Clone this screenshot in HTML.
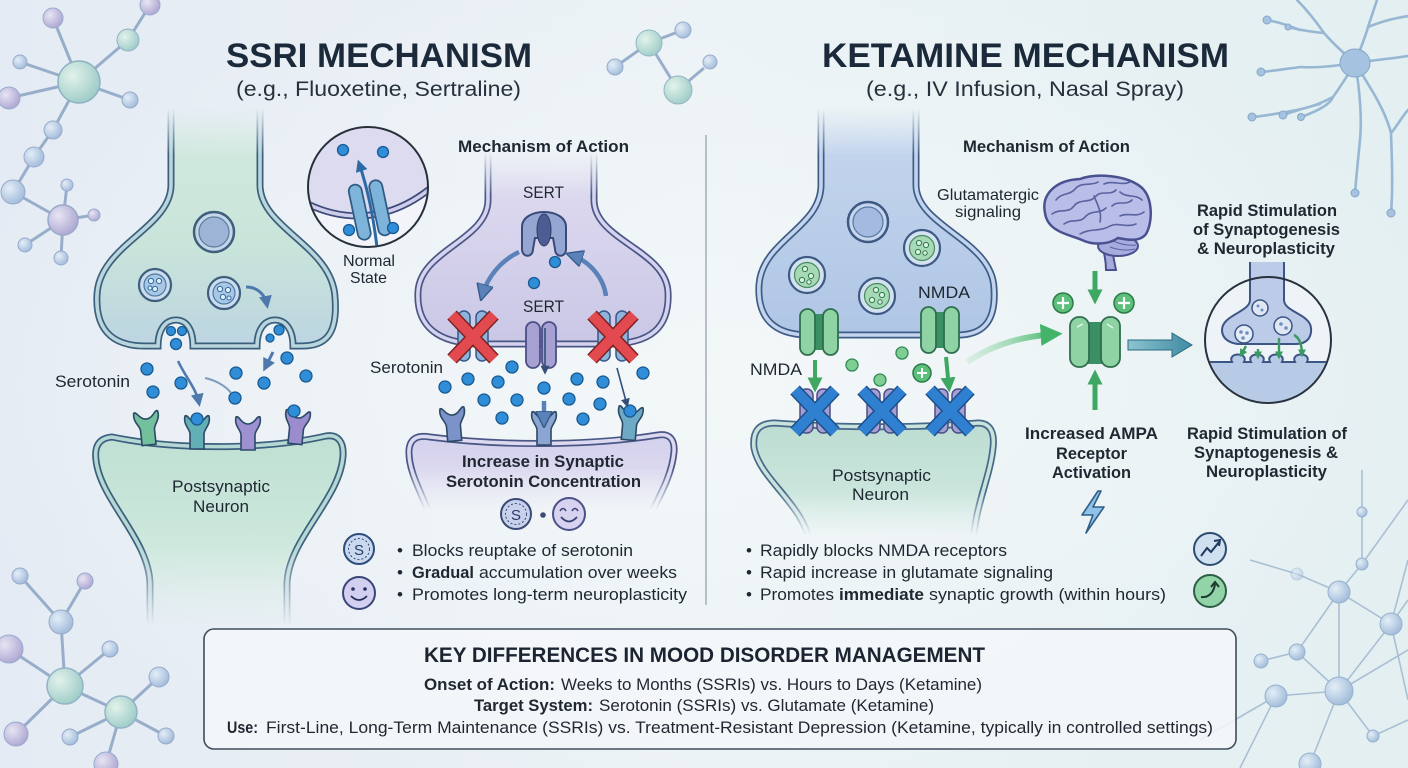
<!DOCTYPE html>
<html><head><meta charset="utf-8">
<style>
html,body{margin:0;padding:0;width:1408px;height:768px;overflow:hidden;background:#e9f0f5;}
svg{display:block}
text{font-family:"Liberation Sans",Arial,sans-serif;fill:#1f2731}
.b{font-weight:bold}
.s{fill:#2f8ed7;stroke:#1a5a92;stroke-width:1.3}
.g{fill:#7fcf95;stroke:#2f8a52;stroke-width:1.3}
.ln{stroke:#8aa4c4;stroke-width:3;fill:none}
.ln2{stroke:#9fb7cf;stroke-width:1.6;fill:none}
.rec{stroke:#2c4a66;stroke-width:1.6}
</style></head><body>
<svg width="1408" height="768" viewBox="0 0 1408 768" xmlns="http://www.w3.org/2000/svg">
<defs>
 <linearGradient id="bg" x1="0" y1="0" x2="1" y2="0">
  <stop offset="0" stop-color="#e5ebf4"/>
  <stop offset="0.5" stop-color="#ebf2f5"/>
  <stop offset="1" stop-color="#e3eff1"/>
 </linearGradient>
 <radialGradient id="bgc" cx="0.5" cy="0.5" r="0.55">
  <stop offset="0" stop-color="#f4f8f9" stop-opacity="0.9"/>
  <stop offset="1" stop-color="#f4f8f9" stop-opacity="0"/>
 </radialGradient>
 <radialGradient id="nB" cx="0.35" cy="0.35" r="0.7"><stop offset="0" stop-color="#e4eef8"/><stop offset="1" stop-color="#95b3d6"/></radialGradient>
 <radialGradient id="nG" cx="0.35" cy="0.35" r="0.7"><stop offset="0" stop-color="#e2f4ea"/><stop offset="1" stop-color="#92c6c0"/></radialGradient>
 <radialGradient id="nP" cx="0.35" cy="0.35" r="0.7"><stop offset="0" stop-color="#e8e4f4"/><stop offset="1" stop-color="#a49bcc"/></radialGradient>

 <linearGradient id="fGreenPre" x1="0" y1="0" x2="0" y2="1"><stop offset="0" stop-color="#d3ebe0"/><stop offset="0.6" stop-color="#c9e4da"/><stop offset="1" stop-color="#bcd5e2"/></linearGradient>
 <linearGradient id="fGreenPost" x1="0" y1="0" x2="0" y2="1"><stop offset="0" stop-color="#bfe0d3"/><stop offset="1" stop-color="#d8eee4"/></linearGradient>
 <linearGradient id="fPurp" x1="0" y1="0" x2="0" y2="1"><stop offset="0" stop-color="#e2def2"/><stop offset="1" stop-color="#cac7e6"/></linearGradient>
 <linearGradient id="fPurpPost" x1="0" y1="0" x2="0" y2="1"><stop offset="0" stop-color="#d3d0ec"/><stop offset="1" stop-color="#e6e4f4"/></linearGradient>
 <linearGradient id="fBlue" x1="0" y1="0" x2="0" y2="1"><stop offset="0" stop-color="#c8d8ee"/><stop offset="1" stop-color="#afc6e5"/></linearGradient>
 <linearGradient id="fKPost" x1="0" y1="0" x2="0" y2="1"><stop offset="0" stop-color="#bcdcd2"/><stop offset="1" stop-color="#d6ede4"/></linearGradient>
 <linearGradient id="fTeal" x1="0" y1="0" x2="1" y2="0"><stop offset="0" stop-color="#8cc4cf"/><stop offset="1" stop-color="#3f8aa3"/></linearGradient>
 <linearGradient id="fArrowG" x1="0" y1="0" x2="1" y2="0"><stop offset="0" stop-color="#a8e0b8" stop-opacity="0.3"/><stop offset="1" stop-color="#43b46a"/></linearGradient>

 <linearGradient id="gPreL" gradientUnits="userSpaceOnUse" x1="0" y1="108" x2="0" y2="155"><stop offset="0" stop-color="#000"/><stop offset="1" stop-color="#fff"/></linearGradient>
 <linearGradient id="gPreP" gradientUnits="userSpaceOnUse" x1="0" y1="152" x2="0" y2="195"><stop offset="0" stop-color="#000"/><stop offset="1" stop-color="#fff"/></linearGradient>
 <linearGradient id="gPreK" gradientUnits="userSpaceOnUse" x1="0" y1="108" x2="0" y2="155"><stop offset="0" stop-color="#000"/><stop offset="1" stop-color="#fff"/></linearGradient>
 <linearGradient id="gPostL" gradientUnits="userSpaceOnUse" x1="0" y1="545" x2="0" y2="625"><stop offset="0" stop-color="#fff"/><stop offset="1" stop-color="#000"/></linearGradient>
 <linearGradient id="gPostP" gradientUnits="userSpaceOnUse" x1="0" y1="468" x2="0" y2="510"><stop offset="0" stop-color="#fff"/><stop offset="1" stop-color="#000"/></linearGradient>
 <linearGradient id="gPostK" gradientUnits="userSpaceOnUse" x1="0" y1="492" x2="0" y2="535"><stop offset="0" stop-color="#fff"/><stop offset="1" stop-color="#000"/></linearGradient>
 <mask id="mPreL" maskUnits="userSpaceOnUse" x="0" y="0" width="1408" height="768"><rect width="1408" height="768" fill="url(#gPreL)"/></mask>
 <mask id="mPreP" maskUnits="userSpaceOnUse" x="0" y="0" width="1408" height="768"><rect width="1408" height="768" fill="url(#gPreP)"/></mask>
 <mask id="mPreK" maskUnits="userSpaceOnUse" x="0" y="0" width="1408" height="768"><rect width="1408" height="768" fill="url(#gPreK)"/></mask>
 <mask id="mPostL" maskUnits="userSpaceOnUse" x="0" y="0" width="1408" height="768"><rect width="1408" height="768" fill="url(#gPostL)"/></mask>
 <mask id="mPostP" maskUnits="userSpaceOnUse" x="0" y="0" width="1408" height="768"><rect width="1408" height="768" fill="url(#gPostP)"/></mask>
 <mask id="mPostK" maskUnits="userSpaceOnUse" x="0" y="0" width="1408" height="768"><rect width="1408" height="768" fill="url(#gPostK)"/></mask>
 <clipPath id="cNormal"><circle cx="368" cy="187" r="59"/></clipPath>
 <clipPath id="cSyn"><circle cx="1268" cy="340" r="62"/></clipPath>

 <marker id="mB" viewBox="0 0 10 10" refX="7" refY="5" markerWidth="13" markerHeight="13" markerUnits="userSpaceOnUse" orient="auto"><path d="M0,0 L10,5 L0,10 Z" fill="#4f79ad"/></marker>
 <marker id="mBL" viewBox="0 0 10 10" refX="7" refY="5" markerWidth="17" markerHeight="17" markerUnits="userSpaceOnUse" orient="auto"><path d="M0,0 L10,5 L0,10 Z" fill="#5a82b8" stroke="#34598a" stroke-width="0.8"/></marker>
 <marker id="mD" viewBox="0 0 10 10" refX="7" refY="5" markerWidth="9" markerHeight="9" markerUnits="userSpaceOnUse" orient="auto"><path d="M0,0 L10,5 L0,10 Z" fill="#34507a"/></marker>
 <marker id="mN" viewBox="0 0 10 10" refX="7" refY="5" markerWidth="12" markerHeight="12" markerUnits="userSpaceOnUse" orient="auto"><path d="M0,0 L10,5 L0,10 Z" fill="#2c6aa5"/></marker>
 <marker id="mG" viewBox="0 0 10 10" refX="7" refY="5" markerWidth="15" markerHeight="15" markerUnits="userSpaceOnUse" orient="auto"><path d="M0,0 L10,5 L0,10 Z" fill="#3ea862"/></marker>
 <marker id="mGL" viewBox="0 0 10 10" refX="7" refY="5" markerWidth="22" markerHeight="22" markerUnits="userSpaceOnUse" orient="auto"><path d="M0,0 L10,5 L0,10 Z" fill="#43b46a"/></marker>
 <marker id="mGs" viewBox="0 0 10 10" refX="7" refY="5" markerWidth="8" markerHeight="8" markerUnits="userSpaceOnUse" orient="auto"><path d="M0,0 L10,5 L0,10 Z" fill="#3a9a60"/></marker>
</defs>

<!-- background -->
<rect width="1408" height="768" fill="url(#bg)"/>
<rect width="1408" height="768" fill="url(#bgc)"/>

<!-- top-left molecule -->
<g opacity="0.85">
 <path class="ln" d="M53,18 L79,82 M128,40 L79,82 M128,40 L150,5 M20,62 L79,82 M130,100 L79,82 M9,98 L79,82 M79,82 L53,130 L34,157 L13,192 L63,220 M63,220 L67,185 M63,220 L94,215 M63,220 L25,245 M63,220 L61,258"/>
 <circle cx="53" cy="18" r="10" fill="url(#nP)" stroke="#8a9fc4"/>
 <circle cx="128" cy="40" r="11" fill="url(#nG)" stroke="#85aac0"/>
 <circle cx="150" cy="5" r="10" fill="url(#nP)" stroke="#8a9fc4"/>
 <circle cx="20" cy="62" r="7" fill="url(#nB)" stroke="#8a9fc4"/>
 <circle cx="9" cy="98" r="11" fill="url(#nP)" stroke="#8a9fc4"/>
 <circle cx="130" cy="100" r="8" fill="url(#nB)" stroke="#8a9fc4"/>
 <circle cx="79" cy="82" r="21" fill="url(#nG)" stroke="#7fa8bc" stroke-width="1.5"/>
 <circle cx="53" cy="130" r="9" fill="url(#nB)" stroke="#8a9fc4"/>
 <circle cx="34" cy="157" r="10" fill="url(#nB)" stroke="#8a9fc4"/>
 <circle cx="13" cy="192" r="12" fill="url(#nB)" stroke="#8a9fc4"/>
 <circle cx="67" cy="185" r="6" fill="url(#nB)" stroke="#8a9fc4"/>
 <circle cx="94" cy="215" r="6" fill="url(#nP)" stroke="#8a9fc4"/>
 <circle cx="25" cy="245" r="7" fill="url(#nB)" stroke="#8a9fc4"/>
 <circle cx="61" cy="258" r="7" fill="url(#nB)" stroke="#8a9fc4"/>
 <circle cx="63" cy="220" r="15" fill="url(#nP)" stroke="#8a9fc4" stroke-width="1.5"/>
</g>
<!-- top-center molecule -->
<g opacity="0.85">
 <path class="ln" d="M615,67 L649,43 L683,30 M649,43 L678,90 L704,68"/>
 <circle cx="615" cy="67" r="8" fill="url(#nB)" stroke="#8a9fc4"/>
 <circle cx="683" cy="30" r="8" fill="url(#nB)" stroke="#8a9fc4"/>
 <circle cx="649" cy="43" r="13" fill="url(#nG)" stroke="#85aac0"/>
 <circle cx="678" cy="90" r="14" fill="url(#nG)" stroke="#85aac0"/>
 <circle cx="710" cy="62" r="7" fill="url(#nB)" stroke="#8a9fc4"/>
</g>
<!-- bottom-left molecule -->
<g opacity="0.85">
 <path class="ln" d="M20,576 L61,622 L85,581 M61,622 L65,686 L9,649 M65,686 L110,649 M65,686 L121,712 L159,677 M65,686 L16,734 M121,712 L70,737 M121,712 L166,736 M121,712 L106,764"/>
 <circle cx="20" cy="576" r="8" fill="url(#nB)" stroke="#8a9fc4"/>
 <circle cx="85" cy="581" r="8" fill="url(#nP)" stroke="#8a9fc4"/>
 <circle cx="61" cy="622" r="12" fill="url(#nB)" stroke="#8a9fc4"/>
 <circle cx="110" cy="649" r="8" fill="url(#nB)" stroke="#8a9fc4"/>
 <circle cx="9" cy="649" r="14" fill="url(#nP)" stroke="#8a9fc4"/>
 <circle cx="65" cy="686" r="18" fill="url(#nG)" stroke="#85aac0" stroke-width="1.5"/>
 <circle cx="159" cy="677" r="10" fill="url(#nB)" stroke="#8a9fc4"/>
 <circle cx="121" cy="712" r="16" fill="url(#nG)" stroke="#85aac0" stroke-width="1.5"/>
 <circle cx="16" cy="734" r="12" fill="url(#nP)" stroke="#8a9fc4"/>
 <circle cx="70" cy="737" r="8" fill="url(#nB)" stroke="#8a9fc4"/>
 <circle cx="166" cy="736" r="8" fill="url(#nB)" stroke="#8a9fc4"/>
 <circle cx="106" cy="764" r="12" fill="url(#nP)" stroke="#8a9fc4"/>
</g>
<!-- top-right neuron -->
<g opacity="0.9">
<g stroke="#8fb1d0" stroke-width="2.6" fill="none" stroke-linecap="round">
 <path d="M1355,63 C1340,50 1330,40 1324,33 C1315,20 1305,8 1297,0"/>
 <path d="M1324,33 C1312,32 1300,30 1288,27 M1300,30 C1290,26 1278,22 1267,20"/>
 <path d="M1355,63 C1335,66 1318,68 1301,67 C1285,69 1272,71 1261,72"/>
 <path d="M1355,63 C1345,80 1338,90 1333,97 C1320,104 1308,108 1297,110 C1280,113 1265,116 1252,117 M1320,104 C1304,108 1292,112 1283,115 M1333,97 C1330,105 1315,112 1301,117"/>
 <path d="M1355,63 C1360,90 1362,120 1360,140 C1358,160 1356,180 1355,193"/>
 <path d="M1355,63 C1372,90 1385,110 1391,133 C1392,160 1393,190 1391,213 M1391,133 C1398,125 1403,115 1408,110"/>
 <path d="M1355,63 C1375,60 1395,58 1408,56"/>
 <path d="M1355,63 C1360,50 1366,35 1368,27 C1372,15 1375,6 1377,0 M1368,27 C1380,22 1395,18 1408,16"/>
</g>
<g fill="#9fbfe0" stroke="#7d9fc4" stroke-width="1">
 <ellipse cx="1355" cy="63" rx="15" ry="14"/>
 <circle cx="1267" cy="20" r="4"/><circle cx="1261" cy="72" r="4"/><circle cx="1252" cy="117" r="4"/><circle cx="1283" cy="115" r="4"/><circle cx="1301" cy="117" r="3.5"/><circle cx="1355" cy="193" r="4"/><circle cx="1391" cy="213" r="4"/><circle cx="1288" cy="27" r="3"/>
</g>
</g>
<!-- bottom-right network -->
<g opacity="0.85">
 <path class="ln2" d="M1362,470 L1362,512 L1362,564 L1339,592 L1391,624 L1408,560 M1339,592 L1297,574 L1250,560 M1339,592 L1339,691 L1391,624 L1408,700 M1339,691 L1297,652 L1261,661 M1339,691 L1276,696 L1240,768 M1339,691 L1373,736 L1408,720 M1339,691 L1310,764 M1339,691 L1408,650 M1362,564 L1408,500 M1297,652 L1339,592 M1276,696 L1200,740 M1391,624 L1408,600"/>
 <g fill="url(#nB)" stroke="#8aa6c8">
  <circle cx="1339" cy="592" r="11"/><circle cx="1391" cy="624" r="11"/><circle cx="1362" cy="564" r="6"/>
  <circle cx="1297" cy="574" r="6" opacity="0.5"/><circle cx="1362" cy="512" r="5"/><circle cx="1297" cy="652" r="8"/>
  <circle cx="1261" cy="661" r="7"/><circle cx="1339" cy="691" r="14"/><circle cx="1276" cy="696" r="11"/>
  <circle cx="1373" cy="736" r="6"/><circle cx="1310" cy="764" r="11"/>
 </g>
</g>

<!-- TITLES -->
<text x="226" y="67" class="b" font-size="34" textLength="306" lengthAdjust="spacingAndGlyphs" style="fill:#1b2a3b">SSRI MECHANISM</text>
<text x="236" y="96" font-size="21" textLength="285" lengthAdjust="spacingAndGlyphs" style="fill:#27313c">(e.g., Fluoxetine, Sertraline)</text>
<text x="822" y="67" class="b" font-size="34" textLength="407" lengthAdjust="spacingAndGlyphs" style="fill:#1b2a3b">KETAMINE MECHANISM</text>
<text x="866" y="96" font-size="21" textLength="318" lengthAdjust="spacingAndGlyphs" style="fill:#27313c">(e.g., IV Infusion, Nasal Spray)</text>

<!-- divider -->
<line x1="706" y1="135" x2="706" y2="605" stroke="#a2adb8" stroke-width="1.5"/>

<!-- ============ SSRI LEFT: green synapse ============ -->
<g mask="url(#mPreL)">
 <path d="M171,100 L171,185 C171,228 99,245 97,295 C95,335 118,346 145,346 L158,346 C158,330 165,320 176,320 C187,320 193,330 193,346 L257,346 C257,330 264,320 275,320 C286,320 293,330 293,346 L302,346 C326,346 338,334 335,297 C332,246 260,228 260,185 L260,100" fill="url(#fGreenPre)"/>
 <path d="M171,100 L171,185 C171,228 99,245 97,295 C95,335 118,346 145,346 L158,346 C158,330 165,320 176,320 C187,320 193,330 193,346 L257,346 C257,330 264,320 275,320 C286,320 293,330 293,346 L302,346 C326,346 338,334 335,297 C332,246 260,228 260,185 L260,100" fill="none" stroke="#3b5f7d" stroke-width="7"/>
 <path d="M171,100 L171,185 C171,228 99,245 97,295 C95,335 118,346 145,346 L158,346 C158,330 165,320 176,320 C187,320 193,330 193,346 L257,346 C257,330 264,320 275,320 C286,320 293,330 293,346 L302,346 C326,346 338,334 335,297 C332,246 260,228 260,185 L260,100" fill="none" stroke="#b9d6dc" stroke-width="3.6"/>
</g>
<!-- vesicles left -->
<circle cx="214" cy="232" r="20" fill="#c4d6e8" stroke="#3e5f7e" stroke-width="2.5"/>
<circle cx="214" cy="232" r="15" fill="#9db4d6" stroke="#5a7ca0" stroke-width="1.2"/>
<g>
 <circle cx="155" cy="285" r="16" fill="#cadced" stroke="#3e5f7e" stroke-width="2.2"/>
 <circle cx="155" cy="285" r="11" fill="#a9c7e4" stroke="#4d7aa3" stroke-width="1.2"/>
 <circle cx="151" cy="281" r="2.6" fill="#e0f0fa" stroke="#2f6aa0"/><circle cx="159" cy="281" r="2.6" fill="#e0f0fa" stroke="#2f6aa0"/><circle cx="155" cy="289" r="2.6" fill="#e0f0fa" stroke="#2f6aa0"/><circle cx="150" cy="288" r="2" fill="#e0f0fa" stroke="#2f6aa0"/>
 <circle cx="224" cy="293" r="16" fill="#cadced" stroke="#3e5f7e" stroke-width="2.2"/>
 <circle cx="224" cy="293" r="11" fill="#a9c7e4" stroke="#4d7aa3" stroke-width="1.2"/>
 <circle cx="220" cy="289" r="2.6" fill="#e0f0fa" stroke="#2f6aa0"/><circle cx="228" cy="290" r="2.6" fill="#e0f0fa" stroke="#2f6aa0"/><circle cx="223" cy="297" r="2.6" fill="#e0f0fa" stroke="#2f6aa0"/><circle cx="229" cy="298" r="2" fill="#e0f0fa" stroke="#2f6aa0"/>
</g>
<path d="M246,287 C257,287 265,294 267,305" fill="none" stroke="#4f79ad" stroke-width="3" marker-end="url(#mB)"/>
<!-- bump dots -->
<circle class="s" cx="171" cy="331" r="4.5"/><circle class="s" cx="182" cy="331" r="4.5"/><circle class="s" cx="176" cy="344" r="5.5"/>
<circle class="s" cx="279" cy="330" r="5"/><circle class="s" cx="270" cy="338" r="4"/>
<path d="M273,352 L265,368" stroke="#4f79ad" stroke-width="3" marker-end="url(#mB)"/>

<!-- Left post -->
<g mask="url(#mPostL)">
 <path d="M150,630 L150,585 C150,540 100,500 96,460 C94,445 100,438 112,437 C170,449 260,451 326,436 C338,434 344,442 343,456 C340,500 287,540 287,585 L287,630" fill="url(#fGreenPost)"/>
 <path d="M150,630 L150,585 C150,540 100,500 96,460 C94,445 100,438 112,437 C170,449 260,451 326,436 C338,434 344,442 343,456 C340,500 287,540 287,585 L287,630" fill="none" stroke="#3b5f7d" stroke-width="7"/>
 <path d="M150,630 L150,585 C150,540 100,500 96,460 C94,445 100,438 112,437 C170,449 260,451 326,436 C338,434 344,442 343,456 C340,500 287,540 287,585 L287,630" fill="none" stroke="#b6d8d4" stroke-width="3.6"/>
</g>
<g>
 <path class="rec" transform="translate(147,425) rotate(-6)" fill="#72c09c" d="M-12,-13 C-14,-4 -7,0 -7,5 L-7,20 L7,20 L7,5 C7,0 14,-4 12,-13 C9,-15 7,-6 0,-6 C-7,-6 -9,-15 -12,-13 Z"/>
 <path class="rec" transform="translate(197,429)" fill="#62b0b6" d="M-12,-13 C-14,-4 -7,0 -7,5 L-7,20 L7,20 L7,5 C7,0 14,-4 12,-13 C9,-15 7,-6 0,-6 C-7,-6 -9,-15 -12,-13 Z"/>
 <path class="rec" transform="translate(248,430)" fill="#9d91d2" d="M-12,-13 C-14,-4 -7,0 -7,5 L-7,20 L7,20 L7,5 C7,0 14,-4 12,-13 C9,-15 7,-6 0,-6 C-7,-6 -9,-15 -12,-13 Z"/>
 <path class="rec" transform="translate(297,424) rotate(6)" fill="#9a8ccd" d="M-12,-13 C-14,-4 -7,0 -7,5 L-7,20 L7,20 L7,5 C7,0 14,-4 12,-13 C9,-15 7,-6 0,-6 C-7,-6 -9,-15 -12,-13 Z"/>
</g>
<!-- serotonin left -->
<circle class="s" cx="147" cy="369" r="6"/><circle class="s" cx="153" cy="392" r="6"/><circle class="s" cx="181" cy="383" r="6"/>
<circle class="s" cx="236" cy="373" r="6"/><circle class="s" cx="287" cy="358" r="6"/><circle class="s" cx="264" cy="383" r="6"/>
<circle class="s" cx="306" cy="376" r="6"/><circle class="s" cx="235" cy="398" r="6"/><circle class="s" cx="197" cy="419" r="6"/><circle class="s" cx="294" cy="411" r="6"/>
<path d="M178,361 C186,378 196,388 199,403" fill="none" stroke="#4f79ad" stroke-width="2.6" marker-end="url(#mB)"/>
<path d="M205,378 C215,380 226,386 231,393" fill="none" stroke="#5a7fa8" stroke-width="2" opacity="0.75"/>

<text x="55" y="387" font-size="17" textLength="75" lengthAdjust="spacingAndGlyphs">Serotonin</text>
<text x="172" y="492" font-size="17" textLength="98" lengthAdjust="spacingAndGlyphs">Postsynaptic</text>
<text x="193" y="512" font-size="17" textLength="56" lengthAdjust="spacingAndGlyphs">Neuron</text>

<!-- Normal state inset -->
<circle cx="368" cy="187" r="60" fill="#f3f4fa"/>
<g clip-path="url(#cNormal)">
 <path d="M300,110 L440,110 L440,180 C395,222 345,225 300,200 Z" fill="#dddbf0"/>
 <path d="M300,200 C345,225 395,222 440,180" fill="none" stroke="#3b4a78" stroke-width="7"/>
 <path d="M300,200 C345,225 395,222 440,180" fill="none" stroke="#d0cdeb" stroke-width="3.6"/>
 <g transform="translate(370,210) rotate(-12)">
  <rect x="-17" y="-28" width="13" height="56" rx="6.5" fill="#7fb4da" stroke="#2f5d88" stroke-width="1.8"/>
  <rect x="4" y="-28" width="13" height="56" rx="6.5" fill="#7fb4da" stroke="#2f5d88" stroke-width="1.8"/>
 </g>
 <path d="M377,247 C373,215 368,190 359,163" fill="none" stroke="#2c6aa5" stroke-width="3" marker-end="url(#mN)"/>
 <circle class="s" cx="343" cy="150" r="5.5"/><circle class="s" cx="383" cy="152" r="5.5"/><circle class="s" cx="349" cy="230" r="5.5"/><circle class="s" cx="393" cy="228" r="5.5"/>
</g>
<circle cx="368" cy="187" r="60" fill="none" stroke="#27303a" stroke-width="2"/>
<text x="343" y="266" font-size="16" textLength="52" lengthAdjust="spacingAndGlyphs">Normal</text>
<text x="350" y="283" font-size="16" textLength="37" lengthAdjust="spacingAndGlyphs">State</text>

<!-- ============ SSRI RIGHT: purple ============ -->
<text x="458" y="152" class="b" font-size="17" textLength="171" lengthAdjust="spacingAndGlyphs">Mechanism of Action</text>
<g mask="url(#mPreP)">
 <path d="M488,140 L488,200 C488,240 420,250 418,292 C416,328 440,343 478,344 L612,344 C650,343 670,328 668,292 C666,250 594,240 594,200 L594,140" fill="url(#fPurp)"/>
 <path d="M488,140 L488,200 C488,240 420,250 418,292 C416,328 440,343 478,344 L612,344 C650,343 670,328 668,292 C666,250 594,240 594,200 L594,140" fill="none" stroke="#4a5786" stroke-width="7"/>
 <path d="M488,140 L488,200 C488,240 420,250 418,292 C416,328 440,343 478,344 L612,344 C650,343 670,328 668,292 C666,250 594,240 594,200 L594,140" fill="none" stroke="#d6d3ee" stroke-width="3.6"/>
</g>
<text x="523" y="198" font-size="17" textLength="41" lengthAdjust="spacingAndGlyphs">SERT</text>
<g transform="translate(544,232)">
 <path d="M-22,-5 C-22,-25 22,-25 22,-5 L22,17 C22,26 11,26 11,17 L9,6 L-9,6 L-11,17 C-11,26 -22,26 -22,17 Z" fill="#93a7d2" stroke="#3b4a78" stroke-width="2"/>
 <ellipse cx="0" cy="-2" rx="7" ry="16" fill="#4d5c93" stroke="#323d68" stroke-width="1"/>
</g>
<circle class="s" cx="555" cy="262" r="5.5"/><circle class="s" cx="534" cy="283" r="5.5"/>
<path d="M519,252 C500,261 487,278 482,296" fill="none" stroke="#5a82b8" stroke-width="4.5" marker-end="url(#mBL)"/>
<path d="M606,296 C604,280 592,262 571,255" fill="none" stroke="#5a82b8" stroke-width="4.5" marker-end="url(#mBL)"/>
<text x="523" y="312" font-size="17" textLength="41" lengthAdjust="spacingAndGlyphs">SERT</text>
<!-- SERT2 channel -->
<rect x="526" y="322" width="14" height="46" rx="7" fill="#a7a0d2" stroke="#4a4f86" stroke-width="1.8"/>
<rect x="542" y="322" width="14" height="46" rx="7" fill="#a7a0d2" stroke="#4a4f86" stroke-width="1.8"/>
<path d="M545,328 L545,372" stroke="#34507a" stroke-width="1.6" marker-end="url(#mD)"/>
<!-- red X's -->
<g transform="translate(473,337)">
 <rect x="-15" y="-26" width="12" height="50" rx="6" fill="#8fb3da" stroke="#34598a" stroke-width="1.5"/>
 <rect x="3" y="-26" width="12" height="50" rx="6" fill="#8fb3da" stroke="#34598a" stroke-width="1.5"/>
 <path d="M-21,-22 L21,22 M21,-22 L-21,22" stroke="#7a2424" stroke-width="13"/>
 <path d="M-21,-22 L21,22 M21,-22 L-21,22" stroke="#e34a4f" stroke-width="10"/>
</g>
<g transform="translate(613,337)">
 <rect x="-15" y="-26" width="12" height="50" rx="6" fill="#8fb3da" stroke="#34598a" stroke-width="1.5"/>
 <rect x="3" y="-26" width="12" height="50" rx="6" fill="#8fb3da" stroke="#34598a" stroke-width="1.5"/>
 <path d="M-21,-22 L21,22 M21,-22 L-21,22" stroke="#7a2424" stroke-width="13"/>
 <path d="M-21,-22 L21,22 M21,-22 L-21,22" stroke="#e34a4f" stroke-width="10"/>
</g>
<text x="370" y="373" font-size="17" textLength="73" lengthAdjust="spacingAndGlyphs">Serotonin</text>
<!-- purple post -->
<g mask="url(#mPostP)">
 <path d="M432,520 C420,490 408,470 409,450 C410,438 418,435 430,437 C500,446 590,446 658,435 C670,433 675,440 674,452 C672,475 660,495 648,520" fill="url(#fPurpPost)"/>
 <path d="M432,520 C420,490 408,470 409,450 C410,438 418,435 430,437 C500,446 590,446 658,435 C670,433 675,440 674,452 C672,475 660,495 648,520" fill="none" stroke="#4a5786" stroke-width="7"/>
 <path d="M432,520 C420,490 408,470 409,450 C410,438 418,435 430,437 C500,446 590,446 658,435 C670,433 675,440 674,452 C672,475 660,495 648,520" fill="none" stroke="#dcd9f0" stroke-width="3.6"/>
</g>
<path class="rec" transform="translate(453,421) rotate(-5)" fill="#7b93c8" d="M-12,-13 C-14,-4 -7,0 -7,5 L-7,20 L7,20 L7,5 C7,0 14,-4 12,-13 C9,-15 7,-6 0,-6 C-7,-6 -9,-15 -12,-13 Z"/>
<path class="rec" transform="translate(544,425)" fill="#8ca5d2" d="M-12,-13 C-14,-4 -7,0 -7,5 L-7,20 L7,20 L7,5 C7,0 14,-4 12,-13 C9,-15 7,-6 0,-6 C-7,-6 -9,-15 -12,-13 Z"/>
<path class="rec" transform="translate(630,420) rotate(5)" fill="#6eaac6" d="M-12,-13 C-14,-4 -7,0 -7,5 L-7,20 L7,20 L7,5 C7,0 14,-4 12,-13 C9,-15 7,-6 0,-6 C-7,-6 -9,-15 -12,-13 Z"/>
<!-- serotonin purple -->
<circle class="s" cx="512" cy="367" r="6"/><circle class="s" cx="468" cy="379" r="6"/><circle class="s" cx="445" cy="387" r="6"/>
<circle class="s" cx="498" cy="382" r="6"/><circle class="s" cx="544" cy="388" r="6"/><circle class="s" cx="577" cy="379" r="6"/>
<circle class="s" cx="603" cy="382" r="6"/><circle class="s" cx="643" cy="373" r="6"/><circle class="s" cx="484" cy="400" r="6"/>
<circle class="s" cx="517" cy="400" r="6"/><circle class="s" cx="569" cy="399" r="6"/><circle class="s" cx="600" cy="404" r="6"/>
<circle class="s" cx="502" cy="418" r="6"/><circle class="s" cx="583" cy="419" r="6"/><circle class="s" cx="630" cy="411" r="6"/>
<path d="M544,401 L544,423" stroke="#5a82b8" stroke-width="4.5" marker-end="url(#mBL)"/>
<path d="M617,368 L627,405" stroke="#34507a" stroke-width="1.6" marker-end="url(#mD)"/>
<text x="462" y="467" class="b" font-size="17" textLength="162" lengthAdjust="spacingAndGlyphs">Increase in Synaptic</text>
<text x="446" y="487" class="b" font-size="17" textLength="195" lengthAdjust="spacingAndGlyphs">Serotonin Concentration</text>
<!-- icons center -->
<g>
 <circle cx="516" cy="514" r="15" fill="#c8d2ec" stroke="#3c4a78" stroke-width="2"/>
 <circle cx="516" cy="514" r="10.5" fill="none" stroke="#3c4a78" stroke-width="1" stroke-dasharray="2 2"/>
 <text x="511" y="520" font-size="15" style="fill:#2b3868">S</text>
 <circle cx="543" cy="515" r="2.8" fill="#3c4a78"/>
 <circle cx="569" cy="514" r="16" fill="#d6d2ef" stroke="#4a5288" stroke-width="2"/>
 <path d="M560,511 Q563,506 566,511 M572,511 Q575,506 578,511" fill="none" stroke="#3a4278" stroke-width="1.6"/>
 <path d="M561,517 Q569,526 577,517" fill="none" stroke="#3a4278" stroke-width="1.8"/>
</g>
<!-- left bullet icons -->
<g>
 <circle cx="359" cy="549" r="15" fill="#cbd9ee" stroke="#2f4d7a" stroke-width="2"/>
 <circle cx="359" cy="549" r="10.5" fill="none" stroke="#2f4d7a" stroke-width="1" stroke-dasharray="2 2"/>
 <text x="354" y="555" font-size="15" style="fill:#22406a">S</text>
 <circle cx="359" cy="593" r="16" fill="#d3cff0" stroke="#3a4478" stroke-width="2"/>
 <circle cx="353" cy="589" r="1.8" fill="#2a3060"/><circle cx="365" cy="589" r="1.8" fill="#2a3060"/>
 <path d="M351,596 Q359,604 367,596" fill="none" stroke="#2a3060" stroke-width="1.8"/>
</g>
<text x="397" y="556" font-size="17">•</text>
<text x="412" y="556" font-size="17" textLength="221" lengthAdjust="spacingAndGlyphs">Blocks reuptake of serotonin</text>
<text x="397" y="578" font-size="17">•</text>
<text x="412" y="578" class="b" font-size="17" textLength="62" lengthAdjust="spacingAndGlyphs">Gradual</text>
<text x="479" y="578" font-size="17" textLength="198" lengthAdjust="spacingAndGlyphs">accumulation over weeks</text>
<text x="397" y="600" font-size="17">•</text>
<text x="412" y="600" font-size="17" textLength="275" lengthAdjust="spacingAndGlyphs">Promotes long-term neuroplasticity</text>

<!-- ============ KETAMINE ============ -->
<text x="963" y="152" class="b" font-size="17" textLength="167" lengthAdjust="spacingAndGlyphs">Mechanism of Action</text>
<g mask="url(#mPreK)">
 <path d="M821,100 L821,185 C821,228 762,240 759,285 C757,320 776,334 806,335 L960,335 C986,334 996,318 994,288 C992,240 916,226 916,185 L916,100" fill="url(#fBlue)"/>
 <path d="M821,100 L821,185 C821,228 762,240 759,285 C757,320 776,334 806,335 L960,335 C986,334 996,318 994,288 C992,240 916,226 916,185 L916,100" fill="none" stroke="#3d5d88" stroke-width="7"/>
 <path d="M821,100 L821,185 C821,228 762,240 759,285 C757,320 776,334 806,335 L960,335 C986,334 996,318 994,288 C992,240 916,226 916,185 L916,100" fill="none" stroke="#c3d4ec" stroke-width="3.6"/>
</g>
<circle cx="868" cy="222" r="20" fill="#c6d6ec" stroke="#3d5a85" stroke-width="2.5"/>
<circle cx="868" cy="222" r="15" fill="#a4bbdf" stroke="#5876a3" stroke-width="1.2"/>
<g>
 <circle cx="807" cy="275" r="18" fill="#d3e2ef" stroke="#3d5a85" stroke-width="2.2"/>
 <circle cx="807" cy="275" r="12.5" fill="#a8d9b6" stroke="#4a8a63" stroke-width="1.2"/>
 <circle cx="805" cy="269" r="2.6" fill="#d9f2e0" stroke="#2f7a4f"/><circle cx="811" cy="276" r="2.6" fill="#d9f2e0" stroke="#2f7a4f"/><circle cx="802" cy="280" r="2.6" fill="#d9f2e0" stroke="#2f7a4f"/><circle cx="809" cy="282" r="2.2" fill="#d9f2e0" stroke="#2f7a4f"/>
 <circle cx="877" cy="296" r="18" fill="#d3e2ef" stroke="#3d5a85" stroke-width="2.2"/>
 <circle cx="877" cy="296" r="12.5" fill="#a8d9b6" stroke="#4a8a63" stroke-width="1.2"/>
 <circle cx="876" cy="290" r="2.6" fill="#d9f2e0" stroke="#2f7a4f"/><circle cx="882" cy="295" r="2.6" fill="#d9f2e0" stroke="#2f7a4f"/><circle cx="872" cy="300" r="2.6" fill="#d9f2e0" stroke="#2f7a4f"/><circle cx="880" cy="302" r="2.2" fill="#d9f2e0" stroke="#2f7a4f"/>
 <circle cx="922" cy="248" r="18" fill="#d3e2ef" stroke="#3d5a85" stroke-width="2.2"/>
 <circle cx="922" cy="248" r="12.5" fill="#a8d9b6" stroke="#4a8a63" stroke-width="1.2"/>
 <circle cx="919" cy="243" r="2.6" fill="#d9f2e0" stroke="#2f7a4f"/><circle cx="926" cy="245" r="2.6" fill="#d9f2e0" stroke="#2f7a4f"/><circle cx="918" cy="252" r="2.6" fill="#d9f2e0" stroke="#2f7a4f"/><circle cx="925" cy="253" r="2.2" fill="#d9f2e0" stroke="#2f7a4f"/>
</g>
<!-- NMDA channels -->
<g transform="translate(819,332)">
 <rect x="-6" y="-18" width="12" height="36" fill="#3a8f63"/>
 <rect x="-19" y="-23" width="15" height="46" rx="7.5" fill="#8fd2a4" stroke="#2f6f4f" stroke-width="1.8"/>
 <rect x="4" y="-23" width="15" height="46" rx="7.5" fill="#8fd2a4" stroke="#2f6f4f" stroke-width="1.8"/>
</g>
<g transform="translate(940,330)">
 <rect x="-6" y="-18" width="12" height="36" fill="#3a8f63"/>
 <rect x="-19" y="-23" width="15" height="46" rx="7.5" fill="#8fd2a4" stroke="#2f6f4f" stroke-width="1.8"/>
 <rect x="4" y="-23" width="15" height="46" rx="7.5" fill="#8fd2a4" stroke="#2f6f4f" stroke-width="1.8"/>
</g>
<text x="918" y="298" font-size="17" textLength="52" lengthAdjust="spacingAndGlyphs">NMDA</text>
<text x="750" y="375" font-size="17" textLength="52" lengthAdjust="spacingAndGlyphs">NMDA</text>
<text x="937" y="200" font-size="16" textLength="102" lengthAdjust="spacingAndGlyphs">Glutamatergic</text>
<text x="955" y="217" font-size="16" textLength="66" lengthAdjust="spacingAndGlyphs">signaling</text>
<!-- Ketamine post -->
<g mask="url(#mPostK)">
 <path d="M810,545 C805,505 760,480 754,448 C752,430 760,423 775,423 C840,428 920,428 978,423 C990,423 995,432 993,448 C990,478 975,505 973,545" fill="url(#fKPost)"/>
 <path d="M810,545 C805,505 760,480 754,448 C752,430 760,423 775,423 C840,428 920,428 978,423 C990,423 995,432 993,448 C990,478 975,505 973,545" fill="none" stroke="#46698a" stroke-width="7"/>
 <path d="M810,545 C805,505 760,480 754,448 C752,430 760,423 775,423 C840,428 920,428 978,423 C990,423 995,432 993,448 C990,478 975,505 973,545" fill="none" stroke="#c9e3dc" stroke-width="3.6"/>
</g>
<!-- blue X's -->
<g transform="translate(815,411)">
 <rect x="-15" y="-22" width="13" height="44" rx="6" fill="#a59fd3" stroke="#4a4f86" stroke-width="1.5"/>
 <rect x="2" y="-22" width="13" height="44" rx="6" fill="#a59fd3" stroke="#4a4f86" stroke-width="1.5"/>
 <path d="M-20,-21 L20,21 M20,-21 L-20,21" stroke="#1d4f8a" stroke-width="13"/>
 <path d="M-20,-21 L20,21 M20,-21 L-20,21" stroke="#2f80d0" stroke-width="10"/>
</g>
<g transform="translate(882,411)">
 <rect x="-15" y="-22" width="13" height="44" rx="6" fill="#a59fd3" stroke="#4a4f86" stroke-width="1.5"/>
 <rect x="2" y="-22" width="13" height="44" rx="6" fill="#a59fd3" stroke="#4a4f86" stroke-width="1.5"/>
 <path d="M-20,-21 L20,21 M20,-21 L-20,21" stroke="#1d4f8a" stroke-width="13"/>
 <path d="M-20,-21 L20,21 M20,-21 L-20,21" stroke="#2f80d0" stroke-width="10"/>
</g>
<g transform="translate(950,411)">
 <rect x="-15" y="-22" width="13" height="44" rx="6" fill="#a59fd3" stroke="#4a4f86" stroke-width="1.5"/>
 <rect x="2" y="-22" width="13" height="44" rx="6" fill="#a59fd3" stroke="#4a4f86" stroke-width="1.5"/>
 <path d="M-20,-21 L20,21 M20,-21 L-20,21" stroke="#1d4f8a" stroke-width="13"/>
 <path d="M-20,-21 L20,21 M20,-21 L-20,21" stroke="#2f80d0" stroke-width="10"/>
</g>
<!-- green arrows & dots -->
<path d="M815,360 L815,388" stroke="#3ea862" stroke-width="4" marker-end="url(#mG)"/>
<path d="M946,357 L949,388" stroke="#3ea862" stroke-width="4" marker-end="url(#mG)"/>
<circle class="g" cx="852" cy="365" r="6"/><circle class="g" cx="902" cy="353" r="6"/><circle class="g" cx="880" cy="380" r="6"/>
<circle cx="922" cy="373" r="9" fill="#5cc07a" stroke="#2a7a48" stroke-width="1.5"/>
<path d="M917,373 L927,373 M922,368 L922,378" stroke="#fff" stroke-width="2"/>
<text x="832" y="481" font-size="17" textLength="99" lengthAdjust="spacingAndGlyphs">Postsynaptic</text>
<text x="852" y="500" font-size="17" textLength="57" lengthAdjust="spacingAndGlyphs">Neuron</text>

<!-- curved big arrow -->
<path d="M967,362 C995,343 1025,336 1056,334" fill="none" stroke="url(#fArrowG)" stroke-width="6" marker-end="url(#mGL)"/>

<!-- brain -->
<g>
 <path d="M1101,242 C1104,252 1106,260 1106,270 L1116,270 C1114,260 1112,252 1113,244 Z" fill="#a5abdc" stroke="#4a5190" stroke-width="2"/>
 <ellipse cx="1118" cy="246" rx="20" ry="10" fill="#a6acdd" stroke="#4a5190" stroke-width="2"/>
 <path d="M1113,241 C1120,244 1128,246 1136,245 M1110,247 C1118,250 1128,251 1135,249" fill="none" stroke="#5a62a0" stroke-width="1"/>
 <path d="M1045,213 C1041,194 1056,180 1080,179 C1096,173 1126,175 1141,187 C1153,197 1153,222 1146,234 C1140,242 1128,240 1118,238 C1108,245 1092,245 1082,240 C1072,236 1063,234 1057,230 C1050,226 1046,220 1045,213 Z" fill="#b9bee8" stroke="#4a5190" stroke-width="2.5"/>
 <g fill="none" stroke="#5a62a0" stroke-width="1.6" stroke-linecap="round">
  <path d="M1056,200 C1062,192 1070,196 1076,188 C1082,182 1092,186 1098,182"/>
  <path d="M1104,184 C1112,180 1122,186 1130,182 M1120,192 C1126,198 1136,194 1142,200"/>
  <path d="M1052,214 C1060,208 1068,214 1074,206 C1080,198 1090,204 1096,196 C1102,190 1110,196 1116,190"/>
  <path d="M1064,224 C1072,218 1080,224 1086,216 C1092,210 1100,214 1106,208"/>
  <path d="M1112,206 C1118,200 1126,206 1132,200 M1120,216 C1128,212 1136,218 1144,212"/>
  <path d="M1080,234 C1090,228 1100,232 1110,226 C1118,222 1126,228 1136,224"/>
  <path d="M1094,196 C1098,206 1102,212 1100,222"/>
 </g>
</g>
<path d="M1095,271 L1095,300" stroke="#3ea862" stroke-width="5" marker-end="url(#mG)"/>
<circle cx="1063" cy="303" r="10" fill="#5cc07a" stroke="#2a7a48" stroke-width="1.5"/>
<path d="M1057,303 L1069,303 M1063,297 L1063,309" stroke="#fff" stroke-width="2.2"/>
<circle cx="1124" cy="303" r="10" fill="#5cc07a" stroke="#2a7a48" stroke-width="1.5"/>
<path d="M1118,303 L1130,303 M1124,297 L1124,309" stroke="#fff" stroke-width="2.2"/>
<!-- AMPA -->
<g transform="translate(1095,342)">
 <rect x="-7" y="-20" width="14" height="42" fill="#3a8f63"/>
 <rect x="-25" y="-25" width="19" height="50" rx="9" fill="#8fd2a4" stroke="#2f6f4f" stroke-width="1.8"/>
 <rect x="6" y="-25" width="19" height="50" rx="9" fill="#8fd2a4" stroke="#2f6f4f" stroke-width="1.8"/>
 <path d="M-18,-15 L-12,-18 M12,-18 L18,-14" stroke="#e8f7ee" stroke-width="1.5"/>
</g>
<path d="M1095,410 L1095,374" stroke="#3ea862" stroke-width="5" marker-end="url(#mG)"/>
<!-- teal arrow -->
<path d="M1128,340 L1172,340 L1172,333 L1192,345 L1172,357 L1172,350 L1128,350 Z" fill="url(#fTeal)" stroke="#2a6a80" stroke-width="1"/>
<text x="1025" y="439" class="b" font-size="17" textLength="133" lengthAdjust="spacingAndGlyphs">Increased AMPA</text>
<text x="1056" y="459" class="b" font-size="17" textLength="71" lengthAdjust="spacingAndGlyphs">Receptor</text>
<text x="1052" y="478" class="b" font-size="17" textLength="79" lengthAdjust="spacingAndGlyphs">Activation</text>
<!-- lightning -->
<path d="M1098,491 L1082,515 L1093,515 L1086,533 L1104,507 L1093,507 L1101,491 Z" fill="#8fc3e8" stroke="#2f5d8a" stroke-width="1.6" stroke-linejoin="round"/>

<!-- synaptogenesis -->
<text x="1197" y="216" class="b" font-size="17" textLength="140" lengthAdjust="spacingAndGlyphs">Rapid Stimulation</text>
<text x="1193" y="235" class="b" font-size="17" textLength="147" lengthAdjust="spacingAndGlyphs">of Synaptogenesis</text>
<text x="1197" y="254" class="b" font-size="17" textLength="138" lengthAdjust="spacingAndGlyphs">&amp; Neuroplasticity</text>
<circle cx="1268" cy="340" r="63" fill="#eef3f8"/>
<g clip-path="url(#cSyn)">
 <path d="M1195,362 L1232,362 C1227,352 1249,352 1244,362 L1251,362 C1246,352 1268,352 1263,362 L1270,362 C1265,352 1287,352 1282,362 L1295,362 C1290,352 1312,352 1307,362 L1345,362 L1345,410 L1195,410 Z" fill="#b8cbe6" stroke="#3c5585" stroke-width="2"/>
</g>
<path d="M1250,262 L1250,300 C1250,312 1222,315 1222,330 C1222,340 1232,344 1240,344 L1296,344 C1306,344 1312,338 1311,328 C1310,314 1284,312 1284,300 L1284,262" fill="#bccbe7" stroke="#3c5585" stroke-width="2"/>
<circle cx="1260" cy="308" r="8" fill="#dfe7f2" stroke="#3c5585" stroke-width="1.5"/>
<circle cx="1244" cy="334" r="9" fill="#e4ecf5" stroke="#3c5585" stroke-width="1.5"/>
<circle cx="1241" cy="332" r="1.8" fill="#6f8fc0"/><circle cx="1247" cy="333" r="1.8" fill="#6f8fc0"/><circle cx="1243" cy="338" r="1.8" fill="#6f8fc0"/>
<circle cx="1283" cy="326" r="9" fill="#dfe7f2" stroke="#3c5585" stroke-width="1.5"/>
<circle cx="1281" cy="324" r="1.8" fill="#6f8fc0"/><circle cx="1286" cy="328" r="1.8" fill="#6f8fc0"/><circle cx="1258" cy="306" r="1.5" fill="#6f8fc0"/><circle cx="1262" cy="310" r="1.5" fill="#6f8fc0"/>
<g stroke="#3a9a60" stroke-width="2.4" fill="none">
 <path d="M1246,346 L1241,355" marker-end="url(#mGs)"/>
 <path d="M1258,349 L1258,357" marker-end="url(#mGs)"/>
 <path d="M1279,338 L1279,357" marker-end="url(#mGs)"/>
 <path d="M1294,335 C1300,338 1302,345 1302,355" marker-end="url(#mGs)"/>
</g>
<circle cx="1268" cy="340" r="63" fill="none" stroke="#28323e" stroke-width="2"/>
<text x="1187" y="439" class="b" font-size="17" textLength="160" lengthAdjust="spacingAndGlyphs">Rapid Stimulation of</text>
<text x="1194" y="458" class="b" font-size="17" textLength="144" lengthAdjust="spacingAndGlyphs">Synaptogenesis &amp;</text>
<text x="1206" y="477" class="b" font-size="17" textLength="121" lengthAdjust="spacingAndGlyphs">Neuroplasticity</text>

<!-- right bullets -->
<text x="746" y="556" font-size="17">•</text>
<text x="760" y="556" font-size="17" textLength="247" lengthAdjust="spacingAndGlyphs">Rapidly blocks NMDA receptors</text>
<text x="746" y="578" font-size="17">•</text>
<text x="760" y="578" font-size="17" textLength="293" lengthAdjust="spacingAndGlyphs">Rapid increase in glutamate signaling</text>
<text x="746" y="600" font-size="17">•</text>
<text x="760" y="600" font-size="17" textLength="74" lengthAdjust="spacingAndGlyphs">Promotes</text>
<text x="839" y="600" class="b" font-size="17" textLength="85" lengthAdjust="spacingAndGlyphs">immediate</text>
<text x="929" y="600" font-size="17" textLength="237" lengthAdjust="spacingAndGlyphs">synaptic growth (within hours)</text>
<!-- right icons -->
<circle cx="1210" cy="549" r="16" fill="#cfe0f1" stroke="#2c4d70" stroke-width="2"/>
<path d="M1201,556 L1207,548 L1211,552 L1219,542" fill="none" stroke="#1f3a5c" stroke-width="2"/>
<path d="M1214,541 L1220,540 L1219,546" fill="none" stroke="#1f3a5c" stroke-width="2"/>
<circle cx="1210" cy="591" r="16" fill="#92d4a8" stroke="#2c5f45" stroke-width="2"/>
<path d="M1201,597 C1209,598 1214,592 1215,584" fill="none" stroke="#1f3a2c" stroke-width="2"/>
<path d="M1211,587 L1215,582 L1219,587" fill="none" stroke="#1f3a2c" stroke-width="2"/>

<!-- KEY DIFFERENCES BOX -->
<rect x="204" y="629" width="1032" height="120" rx="10" fill="#f4f7f9" fill-opacity="0.85" stroke="#3f4d5c" stroke-width="1.6"/>
<text x="424" y="662" class="b" font-size="21" textLength="561" lengthAdjust="spacingAndGlyphs" style="fill:#1b2430">KEY DIFFERENCES IN MOOD DISORDER MANAGEMENT</text>
<text x="424" y="690" class="b" font-size="17" textLength="131" lengthAdjust="spacingAndGlyphs">Onset of Action:</text>
<text x="561" y="690" font-size="17" textLength="421" lengthAdjust="spacingAndGlyphs">Weeks to Months (SSRIs) vs. Hours to Days (Ketamine)</text>
<text x="474" y="711" class="b" font-size="17" textLength="119" lengthAdjust="spacingAndGlyphs">Target System:</text>
<text x="599" y="711" font-size="17" textLength="335" lengthAdjust="spacingAndGlyphs">Serotonin (SSRIs) vs. Glutamate (Ketamine)</text>
<text x="227" y="733" class="b" font-size="17" textLength="31" lengthAdjust="spacingAndGlyphs">Use:</text>
<text x="266" y="733" font-size="17" textLength="947" lengthAdjust="spacingAndGlyphs">First-Line, Long-Term Maintenance (SSRIs) vs. Treatment-Resistant Depression (Ketamine, typically in controlled settings)</text>
</svg>
</body></html>
